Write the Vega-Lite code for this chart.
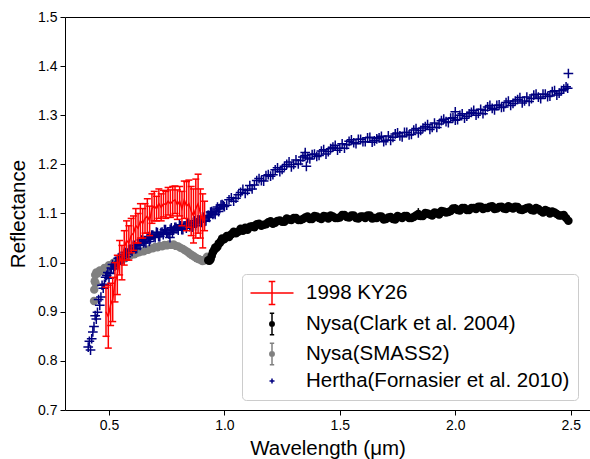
{
  "$schema": "https://vega.github.io/schema/vega-lite/v6.json",
  "width": 525,
  "height": 393,
  "autosize": "none",
  "padding": {"left": 65, "top": 17, "right": 0, "bottom": 49},
  "background": "white",
  "config": {
    "view": {"stroke": null},
    "font": "Liberation Sans",
    "axis": {
      "grid": false, "domainColor": "black", "domainWidth": 1, "tickColor": "black", "tickWidth": 1, "tickSize": 5,
      "labelColor": "black", "labelFont": "Liberation Sans", "labelFontSize": 14, "labelPadding": 3,
      "titleColor": "black", "titleFont": "Liberation Sans", "titleFontSize": 20.5, "titleFontWeight": "normal"
    },
    "legend": {
      "orient": "none", "legendX": 177, "legendY": 257, "title": null,
      "labelFont": "Liberation Sans", "labelFontSize": 20.5, "labelColor": "black", "labelLimit": 400,
      "padding": 8, "symbolSize": 400, "symbolOffset": 11, "labelOffset": 23, "rowPadding": 2,
      "fillColor": "rgba(255,255,255,0.8)", "strokeColor": "#cccccc", "cornerRadius": 4, "symbolStrokeWidth": 1.5
    }
  },
  "datasets": {
    "hertha": [
      {"x":0.41,"y":0.828},{"x":0.415,"y":0.840},{"x":0.42,"y":0.822},{"x":0.425,"y":0.845},{"x":0.43,"y":0.859},{"x":0.435,"y":0.870},{"x":0.44,"y":0.892},{"x":0.445,"y":0.885},{"x":0.45,"y":0.899},{"x":0.455,"y":0.925},{"x":0.46,"y":0.913},{"x":0.465,"y":0.930},{"x":0.47,"y":0.954},{"x":0.475,"y":0.948},{"x":0.48,"y":0.956},{"x":0.485,"y":0.970},{"x":0.49,"y":0.974},{"x":0.495,"y":0.980},{"x":0.50,"y":0.968},{"x":0.505,"y":0.978},
      {"x":0.51,"y":0.989},{"x":0.515,"y":0.996},{"x":0.52,"y":0.987},{"x":0.525,"y":0.993},{"x":0.53,"y":1.000},{"x":0.535,"y":0.997},{"x":0.54,"y":1.009},{"x":0.545,"y":1.011},{"x":0.55,"y":1.005},{"x":0.555,"y":1.008},{"x":0.56,"y":1.006},{"x":0.565,"y":1.017},{"x":0.57,"y":1.021},{"x":0.575,"y":1.012},{"x":0.58,"y":1.019},{"x":0.585,"y":1.026},{"x":0.59,"y":1.027},{"x":0.595,"y":1.025},{"x":0.60,"y":1.023},{"x":0.605,"y":1.035},
      {"x":0.61,"y":1.035},{"x":0.615,"y":1.028},{"x":0.62,"y":1.029},{"x":0.625,"y":1.038},{"x":0.63,"y":1.039},{"x":0.635,"y":1.035},{"x":0.64,"y":1.046},{"x":0.645,"y":1.047},{"x":0.65,"y":1.040},{"x":0.655,"y":1.043},{"x":0.66,"y":1.040},{"x":0.665,"y":1.050},{"x":0.67,"y":1.053},{"x":0.675,"y":1.043},{"x":0.68,"y":1.049},{"x":0.685,"y":1.056},{"x":0.69,"y":1.056},{"x":0.695,"y":1.053},{"x":0.70,"y":1.051},{"x":0.705,"y":1.062},
      {"x":0.71,"y":1.061},{"x":0.715,"y":1.053},{"x":0.72,"y":1.053},{"x":0.725,"y":1.061},{"x":0.73,"y":1.062},{"x":0.735,"y":1.057},{"x":0.74,"y":1.067},{"x":0.745,"y":1.067},{"x":0.75,"y":1.060},{"x":0.755,"y":1.062},{"x":0.76,"y":1.058},{"x":0.765,"y":1.068},{"x":0.77,"y":1.071},{"x":0.775,"y":1.061},{"x":0.78,"y":1.066},{"x":0.785,"y":1.072},{"x":0.79,"y":1.072},{"x":0.795,"y":1.069},{"x":0.80,"y":1.066},{"x":0.805,"y":1.077},
      {"x":0.81,"y":1.075},{"x":0.815,"y":1.067},{"x":0.82,"y":1.067},{"x":0.825,"y":1.075},{"x":0.83,"y":1.075},{"x":0.835,"y":1.070},{"x":0.84,"y":1.080},{"x":0.845,"y":1.080},{"x":0.85,"y":1.073},{"x":0.855,"y":1.075},{"x":0.86,"y":1.072},{"x":0.865,"y":1.082},{"x":0.87,"y":1.085},{"x":0.875,"y":1.075},{"x":0.88,"y":1.081},{"x":0.885,"y":1.087},{"x":0.89,"y":1.087},{"x":0.895,"y":1.084},{"x":0.90,"y":1.082},{"x":0.905,"y":1.093},
      {"x":0.91,"y":1.092},{"x":0.915,"y":1.084},{"x":0.92,"y":1.085},{"x":0.925,"y":1.094},{"x":0.93,"y":1.096},{"x":0.935,"y":1.092},{"x":0.94,"y":1.103},{"x":0.945,"y":1.104},{"x":0.95,"y":1.098},{"x":0.955,"y":1.101},{"x":0.96,"y":1.098},{"x":0.965,"y":1.109},{"x":0.97,"y":1.113},{"x":0.975,"y":1.104},{"x":0.98,"y":1.110},{"x":0.985,"y":1.117},{"x":0.99,"y":1.118},{"x":0.995,"y":1.116},{"x":1.00,"y":1.114},
      {"x":1.01,"y":1.117},{"x":1.02,"y":1.128},{"x":1.03,"y":1.132},{"x":1.04,"y":1.125},{"x":1.05,"y":1.131},{"x":1.06,"y":1.138},{"x":1.07,"y":1.143},{"x":1.08,"y":1.149},{"x":1.09,"y":1.141},{"x":1.10,"y":1.147},
      {"x":1.11,"y":1.157},{"x":1.12,"y":1.150},{"x":1.13,"y":1.158},{"x":1.14,"y":1.167},{"x":1.15,"y":1.171},{"x":1.16,"y":1.167},{"x":1.17,"y":1.166},{"x":1.18,"y":1.177},{"x":1.19,"y":1.179},{"x":1.20,"y":1.176},
      {"x":1.21,"y":1.179},{"x":1.22,"y":1.189},{"x":1.23,"y":1.193},{"x":1.24,"y":1.185},{"x":1.25,"y":1.190},{"x":1.26,"y":1.196},{"x":1.27,"y":1.200},{"x":1.28,"y":1.205},{"x":1.29,"y":1.195},{"x":1.30,"y":1.200},
      {"x":1.31,"y":1.209},{"x":1.32,"y":1.201},{"x":1.33,"y":1.208},{"x":1.34,"y":1.215},{"x":1.35,"y":1.218},{"x":1.36,"y":1.213},{"x":1.37,"y":1.211},{"x":1.38,"y":1.220},{"x":1.39,"y":1.221},{"x":1.40,"y":1.216},
      {"x":1.41,"y":1.218},{"x":1.42,"y":1.227},{"x":1.43,"y":1.230},{"x":1.44,"y":1.221},{"x":1.45,"y":1.226},{"x":1.46,"y":1.232},{"x":1.47,"y":1.235},{"x":1.48,"y":1.239},{"x":1.49,"y":1.229},{"x":1.50,"y":1.233},
      {"x":1.51,"y":1.242},{"x":1.52,"y":1.233},{"x":1.53,"y":1.240},{"x":1.54,"y":1.247},{"x":1.55,"y":1.250},{"x":1.56,"y":1.244},{"x":1.57,"y":1.242},{"x":1.58,"y":1.251},{"x":1.59,"y":1.251},{"x":1.60,"y":1.246},
      {"x":1.61,"y":1.246},{"x":1.62,"y":1.254},{"x":1.63,"y":1.255},{"x":1.64,"y":1.245},{"x":1.65,"y":1.248},{"x":1.66,"y":1.252},{"x":1.67,"y":1.254},{"x":1.68,"y":1.257},{"x":1.69,"y":1.246},{"x":1.70,"y":1.249},
      {"x":1.71,"y":1.258},{"x":1.72,"y":1.249},{"x":1.73,"y":1.255},{"x":1.74,"y":1.262},{"x":1.75,"y":1.264},{"x":1.76,"y":1.258},{"x":1.77,"y":1.256},{"x":1.78,"y":1.265},{"x":1.79,"y":1.265},{"x":1.80,"y":1.260},
      {"x":1.81,"y":1.261},{"x":1.82,"y":1.270},{"x":1.83,"y":1.273},{"x":1.84,"y":1.264},{"x":1.85,"y":1.269},{"x":1.86,"y":1.274},{"x":1.87,"y":1.277},{"x":1.88,"y":1.281},{"x":1.89,"y":1.271},{"x":1.90,"y":1.275},
      {"x":1.91,"y":1.284},{"x":1.92,"y":1.275},{"x":1.93,"y":1.282},{"x":1.94,"y":1.289},{"x":1.95,"y":1.292},{"x":1.96,"y":1.287},{"x":1.97,"y":1.285},{"x":1.98,"y":1.294},{"x":1.99,"y":1.295},{"x":2.00,"y":1.290},
      {"x":2.01,"y":1.291},{"x":2.02,"y":1.300},{"x":2.03,"y":1.303},{"x":2.04,"y":1.294},{"x":2.05,"y":1.298},{"x":2.06,"y":1.303},{"x":2.07,"y":1.306},{"x":2.08,"y":1.310},{"x":2.09,"y":1.300},{"x":2.10,"y":1.304},
      {"x":2.11,"y":1.312},{"x":2.12,"y":1.303},{"x":2.13,"y":1.310},{"x":2.14,"y":1.317},{"x":2.15,"y":1.320},{"x":2.16,"y":1.314},{"x":2.17,"y":1.311},{"x":2.18,"y":1.320},{"x":2.19,"y":1.321},{"x":2.20,"y":1.316},
      {"x":2.21,"y":1.317},{"x":2.22,"y":1.326},{"x":2.23,"y":1.329},{"x":2.24,"y":1.320},{"x":2.25,"y":1.324},{"x":2.26,"y":1.329},{"x":2.27,"y":1.332},{"x":2.28,"y":1.336},{"x":2.29,"y":1.325},{"x":2.30,"y":1.329},
      {"x":2.31,"y":1.337},{"x":2.32,"y":1.328},{"x":2.33,"y":1.334},{"x":2.34,"y":1.341},{"x":2.35,"y":1.343},{"x":2.36,"y":1.337},{"x":2.37,"y":1.334},{"x":2.38,"y":1.343},{"x":2.39,"y":1.343},{"x":2.40,"y":1.338},
      {"x":2.41,"y":1.339},{"x":2.42,"y":1.348},{"x":2.43,"y":1.350},{"x":2.44,"y":1.341},{"x":2.45,"y":1.345},{"x":2.46,"y":1.350},{"x":2.47,"y":1.353},{"x":2.48,"y":1.358},
      {"x":0.764,"y":1.051},{"x":1.35,"y":1.224},{"x":1.355,"y":1.196},{"x":2.0,"y":1.307},{"x":2.487,"y":1.355},{"x":2.49,"y":1.385}
    ],
    "clark": [
      {"x":0.93,"y":1.005},{"x":0.935,"y":1.004},{"x":0.94,"y":1.007},{"x":0.945,"y":1.014},{"x":0.95,"y":1.021},{"x":0.955,"y":1.025},{"x":0.96,"y":1.031},{"x":0.965,"y":1.030},{"x":0.97,"y":1.033},{"x":0.975,"y":1.039},{"x":0.98,"y":1.040},{"x":0.985,"y":1.044},{"x":0.99,"y":1.049},{"x":0.995,"y":1.047},{"x":1.00,"y":1.048},
      {"x":1.01,"y":1.054},{"x":1.02,"y":1.052},{"x":1.03,"y":1.058},{"x":1.04,"y":1.063},{"x":1.05,"y":1.060},{"x":1.06,"y":1.063},{"x":1.07,"y":1.069},{"x":1.08,"y":1.065},{"x":1.09,"y":1.071},{"x":1.10,"y":1.067},
      {"x":1.11,"y":1.073},{"x":1.12,"y":1.074},{"x":1.13,"y":1.072},{"x":1.14,"y":1.078},{"x":1.15,"y":1.079},{"x":1.16,"y":1.075},{"x":1.17,"y":1.077},{"x":1.18,"y":1.078},{"x":1.19,"y":1.082},{"x":1.20,"y":1.084},
      {"x":1.21,"y":1.079},{"x":1.22,"y":1.081},{"x":1.23,"y":1.085},{"x":1.24,"y":1.086},{"x":1.25,"y":1.083},{"x":1.26,"y":1.083},{"x":1.27,"y":1.090},{"x":1.28,"y":1.088},{"x":1.29,"y":1.087},{"x":1.30,"y":1.091},
      {"x":1.31,"y":1.091},{"x":1.32,"y":1.087},{"x":1.33,"y":1.087},{"x":1.34,"y":1.089},{"x":1.35,"y":1.092},{"x":1.36,"y":1.094},{"x":1.37,"y":1.089},{"x":1.38,"y":1.089},{"x":1.39,"y":1.095},{"x":1.40,"y":1.094},
      {"x":1.41,"y":1.091},{"x":1.42,"y":1.089},{"x":1.43,"y":1.095},{"x":1.44,"y":1.094},{"x":1.45,"y":1.090},{"x":1.46,"y":1.096},{"x":1.47,"y":1.094},{"x":1.48,"y":1.091},{"x":1.49,"y":1.091},{"x":1.50,"y":1.092},
      {"x":1.51,"y":1.097},{"x":1.52,"y":1.097},{"x":1.53,"y":1.093},{"x":1.54,"y":1.092},{"x":1.55,"y":1.096},{"x":1.56,"y":1.096},{"x":1.57,"y":1.091},{"x":1.58,"y":1.090},{"x":1.59,"y":1.094},{"x":1.60,"y":1.094},
      {"x":1.61,"y":1.091},{"x":1.62,"y":1.096},{"x":1.63,"y":1.096},{"x":1.64,"y":1.090},{"x":1.65,"y":1.091},{"x":1.66,"y":1.091},{"x":1.67,"y":1.094},{"x":1.68,"y":1.094},{"x":1.69,"y":1.088},{"x":1.70,"y":1.089},
      {"x":1.71,"y":1.092},{"x":1.72,"y":1.093},{"x":1.73,"y":1.089},{"x":1.74,"y":1.088},{"x":1.75,"y":1.095},{"x":1.76,"y":1.093},{"x":1.77,"y":1.091},{"x":1.78,"y":1.095},{"x":1.79,"y":1.095},{"x":1.80,"y":1.091},
      {"x":1.81,"y":1.091},{"x":1.82,"y":1.093},{"x":1.83,"y":1.096},{"x":1.84,"y":1.099},{"x":1.85,"y":1.095},{"x":1.86,"y":1.095},{"x":1.87,"y":1.101},{"x":1.88,"y":1.100},{"x":1.89,"y":1.098},{"x":1.90,"y":1.096},
      {"x":1.91,"y":1.102},{"x":1.92,"y":1.101},{"x":1.93,"y":1.098},{"x":1.94,"y":1.105},{"x":1.95,"y":1.104},{"x":1.96,"y":1.102},{"x":1.97,"y":1.103},{"x":1.98,"y":1.105},{"x":1.99,"y":1.110},{"x":2.00,"y":1.110},
      {"x":2.01,"y":1.107},{"x":2.02,"y":1.106},{"x":2.03,"y":1.111},{"x":2.04,"y":1.111},{"x":2.05,"y":1.107},{"x":2.06,"y":1.107},{"x":2.07,"y":1.111},{"x":2.08,"y":1.111},{"x":2.09,"y":1.109},{"x":2.10,"y":1.114},
      {"x":2.11,"y":1.114},{"x":2.12,"y":1.109},{"x":2.13,"y":1.111},{"x":2.14,"y":1.111},{"x":2.15,"y":1.114},{"x":2.16,"y":1.115},{"x":2.17,"y":1.109},{"x":2.18,"y":1.110},{"x":2.19,"y":1.113},{"x":2.20,"y":1.114},
      {"x":2.21,"y":1.110},{"x":2.22,"y":1.109},{"x":2.23,"y":1.115},{"x":2.24,"y":1.112},{"x":2.25,"y":1.110},{"x":2.26,"y":1.114},{"x":2.27,"y":1.113},{"x":2.28,"y":1.108},{"x":2.29,"y":1.107},{"x":2.30,"y":1.109},
      {"x":2.31,"y":1.111},{"x":2.32,"y":1.112},{"x":2.33,"y":1.107},{"x":2.34,"y":1.106},{"x":2.35,"y":1.111},{"x":2.36,"y":1.109},{"x":2.37,"y":1.105},{"x":2.38,"y":1.102},{"x":2.39,"y":1.107},{"x":2.40,"y":1.105},
      {"x":2.41,"y":1.100},{"x":2.42,"y":1.104},{"x":2.43,"y":1.102},{"x":2.44,"y":1.099},{"x":2.45,"y":1.096},{"x":2.46,"y":1.096},{"x":2.47,"y":1.097},{"x":2.48,"y":1.091},{"x":2.49,"y":1.085}
    ],
    "clark_err": [
      {"x":1.84,"y":1.099,"lo":1.087,"hi":1.111},{"x":2.00,"y":1.110,"lo":1.101,"hi":1.119}
    ],
    "smass": [
      {"x":0.435,"y":0.922},{"x":0.436,"y":0.945},{"x":0.438,"y":0.962},{"x":0.44,"y":0.975},{"x":0.442,"y":0.958},{"x":0.445,"y":0.980},
      {"x":0.45,"y":0.978},{"x":0.46,"y":0.984},{"x":0.47,"y":0.983},{"x":0.48,"y":0.989},{"x":0.49,"y":0.989},{"x":0.50,"y":0.995},
      {"x":0.51,"y":0.994},{"x":0.52,"y":1.000},{"x":0.53,"y":1.001},{"x":0.54,"y":1.004},{"x":0.55,"y":1.005},{"x":0.56,"y":1.009},{"x":0.57,"y":1.009},{"x":0.58,"y":1.013},{"x":0.59,"y":1.014},{"x":0.60,"y":1.017},
      {"x":0.61,"y":1.017},{"x":0.62,"y":1.020},{"x":0.63,"y":1.021},{"x":0.64,"y":1.023},{"x":0.65,"y":1.023},{"x":0.66,"y":1.026},{"x":0.67,"y":1.026},{"x":0.68,"y":1.029},{"x":0.69,"y":1.029},{"x":0.70,"y":1.032},
      {"x":0.71,"y":1.031},{"x":0.72,"y":1.034},{"x":0.73,"y":1.033},{"x":0.74,"y":1.036},{"x":0.75,"y":1.035},{"x":0.76,"y":1.037},{"x":0.77,"y":1.036},{"x":0.78,"y":1.037},{"x":0.79,"y":1.034},{"x":0.80,"y":1.033},
      {"x":0.81,"y":1.030},{"x":0.82,"y":1.028},{"x":0.83,"y":1.025},{"x":0.84,"y":1.022},{"x":0.85,"y":1.018},{"x":0.86,"y":1.015},{"x":0.87,"y":1.012},{"x":0.88,"y":1.009},{"x":0.89,"y":1.007},{"x":0.90,"y":1.005},
      {"x":0.905,"y":1.003},{"x":0.91,"y":1.004},{"x":0.915,"y":1.005},{"x":0.92,"y":1.008},{"x":0.925,"y":1.012}
    ],
    "ky26": [
      {"x":0.487,"y":0.900,"lo":0.850,"hi":0.950},{"x":0.497,"y":0.890,"lo":0.826,"hi":0.954},{"x":0.507,"y":0.915,"lo":0.872,"hi":0.958},{"x":0.516,"y":0.925,"lo":0.880,"hi":0.970},
      {"x":0.526,"y":0.960,"lo":0.920,"hi":1.000},{"x":0.536,"y":0.975,"lo":0.935,"hi":1.015},{"x":0.546,"y":1.010,"lo":0.975,"hi":1.045},{"x":0.556,"y":1.000,"lo":0.965,"hi":1.035},
      {"x":0.566,"y":1.030,"lo":0.995,"hi":1.065},{"x":0.576,"y":1.045,"lo":1.005,"hi":1.085},{"x":0.586,"y":1.040,"lo":1.005,"hi":1.075},{"x":0.596,"y":1.055,"lo":1.020,"hi":1.090},
      {"x":0.606,"y":1.060,"lo":1.025,"hi":1.095},{"x":0.616,"y":1.075,"lo":1.040,"hi":1.110},{"x":0.626,"y":1.070,"lo":1.040,"hi":1.100},{"x":0.636,"y":1.085,"lo":1.050,"hi":1.120},
      {"x":0.646,"y":1.080,"lo":1.050,"hi":1.110},{"x":0.656,"y":1.090,"lo":1.060,"hi":1.120},{"x":0.666,"y":1.095,"lo":1.060,"hi":1.130},{"x":0.676,"y":1.085,"lo":1.055,"hi":1.115},
      {"x":0.686,"y":1.110,"lo":1.080,"hi":1.140},{"x":0.696,"y":1.115,"lo":1.085,"hi":1.145},{"x":0.706,"y":1.110,"lo":1.085,"hi":1.135},{"x":0.716,"y":1.120,"lo":1.090,"hi":1.150},
      {"x":0.726,"y":1.112,"lo":1.085,"hi":1.140},{"x":0.736,"y":1.120,"lo":1.093,"hi":1.147},{"x":0.746,"y":1.118,"lo":1.090,"hi":1.145},{"x":0.756,"y":1.125,"lo":1.097,"hi":1.153},
      {"x":0.766,"y":1.120,"lo":1.092,"hi":1.148},{"x":0.776,"y":1.125,"lo":1.095,"hi":1.155},{"x":0.786,"y":1.128,"lo":1.100,"hi":1.156},{"x":0.796,"y":1.118,"lo":1.088,"hi":1.148},
      {"x":0.806,"y":1.125,"lo":1.095,"hi":1.155},{"x":0.816,"y":1.110,"lo":1.075,"hi":1.145},{"x":0.826,"y":1.128,"lo":1.090,"hi":1.166},{"x":0.836,"y":1.115,"lo":1.065,"hi":1.165},
      {"x":0.846,"y":1.120,"lo":1.072,"hi":1.168},{"x":0.856,"y":1.105,"lo":1.055,"hi":1.155},{"x":0.866,"y":1.095,"lo":1.040,"hi":1.150},{"x":0.876,"y":1.110,"lo":1.050,"hi":1.170},
      {"x":0.886,"y":1.120,"lo":1.060,"hi":1.180},{"x":0.896,"y":1.100,"lo":1.050,"hi":1.150},{"x":0.906,"y":1.085,"lo":1.030,"hi":1.140},{"x":0.914,"y":1.095,"lo":1.065,"hi":1.125}
    ]
  },
  "layer": [
    {
      "encoding": {
        "x": {"field": "x", "type": "quantitative", "scale": {"domain": [0.3094, 2.5836], "nice": false, "zero": false},
              "axis": {"orient": "bottom", "title": "Wavelength (μm)", "values": [0.5, 1.0, 1.5, 2.0, 2.5], "format": ".1f", "titlePadding": 6}},
        "y": {"field": "y", "type": "quantitative", "scale": {"domain": [0.7, 1.5], "nice": false, "zero": false},
              "axis": {"orient": "left", "title": "Reflectance", "values": [0.7, 0.8, 0.9, 1.0, 1.1, 1.2, 1.3, 1.4, 1.5], "format": ".1f", "titlePadding": 9}},
        "color": {"field": "series", "type": "nominal",
                  "scale": {"domain": ["1998 KY26", "Nysa(Clark et al. 2004)", "Nysa(SMASS2)", "Hertha(Fornasier et al. 2010)"], "range": ["#ff0000", "#000000", "#808080", "#000080"]}}
      },
      "layer": [
        {"data": {"name": "smass"}, "transform": [{"calculate": "'Nysa(SMASS2)'", "as": "series"}],
         "mark": {"type": "circle", "size": 70, "opacity": 1}},
        {"data": {"name": "clark"}, "transform": [{"calculate": "'Nysa(Clark et al. 2004)'", "as": "series"}],
         "mark": {"type": "circle", "size": 72, "opacity": 1}},
        {"data": {"name": "clark_err"}, "transform": [{"calculate": "'Nysa(Clark et al. 2004)'", "as": "series"}],
         "mark": {"type": "rule", "strokeWidth": 1.5},
         "encoding": {"y": {"field": "lo", "type": "quantitative"}, "y2": {"field": "hi"}}},
        {"data": {"name": "hertha"}, "transform": [{"calculate": "'Hertha(Fornasier et al. 2010)'", "as": "series"}],
         "mark": {"type": "point", "filled": false, "size": 1500, "strokeWidth": 1.5, "opacity": 1},
         "encoding": {
           "color": {"field": "series", "type": "nominal",
                     "scale": {"domain": ["1998 KY26", "Nysa(Clark et al. 2004)", "Nysa(SMASS2)", "Hertha(Fornasier et al. 2010)"], "range": ["#ff0000", "#000000", "#808080", "#000080"]},
                     "legend": {"encode": {"symbols": {"update": {"fill": {"scale": "color", "field": "value"}, "stroke": {"scale": "color", "field": "value"}, "strokeWidth": {"value": 1.5}, "size": {"value": 400}, "opacity": {"value": 1}}}}}},
           "shape": {"field": "series", "type": "nominal",
                     "scale": {"domain": ["1998 KY26", "Nysa(Clark et al. 2004)", "Nysa(SMASS2)", "Hertha(Fornasier et al. 2010)"],
                               "range": ["M-2.15,0H2.15M0,-1.15V1.15M-0.33,-1.15H0.33M-0.33,1.15H0.33",
                                         "M0,-1.08V1.08M-0.22,-1.08H0.22M-0.22,1.08H0.22M-0.22,0A0.22,0.22 0 1,0 0.22,0A0.22,0.22 0 1,0 -0.22,0Z",
                                         "M0,-1.08V1.08M-0.22,-1.08H0.22M-0.22,1.08H0.22M-0.22,0A0.22,0.22 0 1,0 0.22,0A0.22,0.22 0 1,0 -0.22,0Z",
                                         "M-0.25,0H0.25M0,-0.25V0.25"]},
                     "legend": {"encode": {"symbols": {"update": {"fill": {"scale": "color", "field": "value"}, "stroke": {"scale": "color", "field": "value"}, "strokeWidth": {"value": 1.5}, "size": {"value": 400}, "opacity": {"value": 1}}}}}}
         }},
        {"data": {"name": "ky26"}, "transform": [{"calculate": "'1998 KY26'", "as": "series"}],
         "mark": {"type": "line", "strokeWidth": 1.5}},
        {"data": {"name": "ky26"}, "transform": [{"calculate": "'1998 KY26'", "as": "series"}],
         "mark": {"type": "rule", "strokeWidth": 1.5},
         "encoding": {"y": {"field": "lo", "type": "quantitative"}, "y2": {"field": "hi"}}},
        {"data": {"name": "ky26"}, "transform": [{"calculate": "'1998 KY26'", "as": "series"}],
         "mark": {"type": "tick", "orient": "horizontal", "size": 7, "thickness": 1.5, "opacity": 1},
         "encoding": {"y": {"field": "lo", "type": "quantitative"}}},
        {"data": {"name": "ky26"}, "transform": [{"calculate": "'1998 KY26'", "as": "series"}],
         "mark": {"type": "tick", "orient": "horizontal", "size": 7, "thickness": 1.5, "opacity": 1},
         "encoding": {"y": {"field": "hi", "type": "quantitative"}}}
      ]
    },
    {
      "data": {"name": "smass"},
      "mark": {"type": "point", "opacity": 0},
      "encoding": {
        "x": {"field": "x", "type": "quantitative", "scale": {"domain": [0.3094, 2.5836], "nice": false, "zero": false},
              "axis": {"orient": "top", "labels": false, "ticks": false, "title": null, "domain": true}}
      }
    }
  ],
  "resolve": {"axis": {"x": "independent"}}
}
